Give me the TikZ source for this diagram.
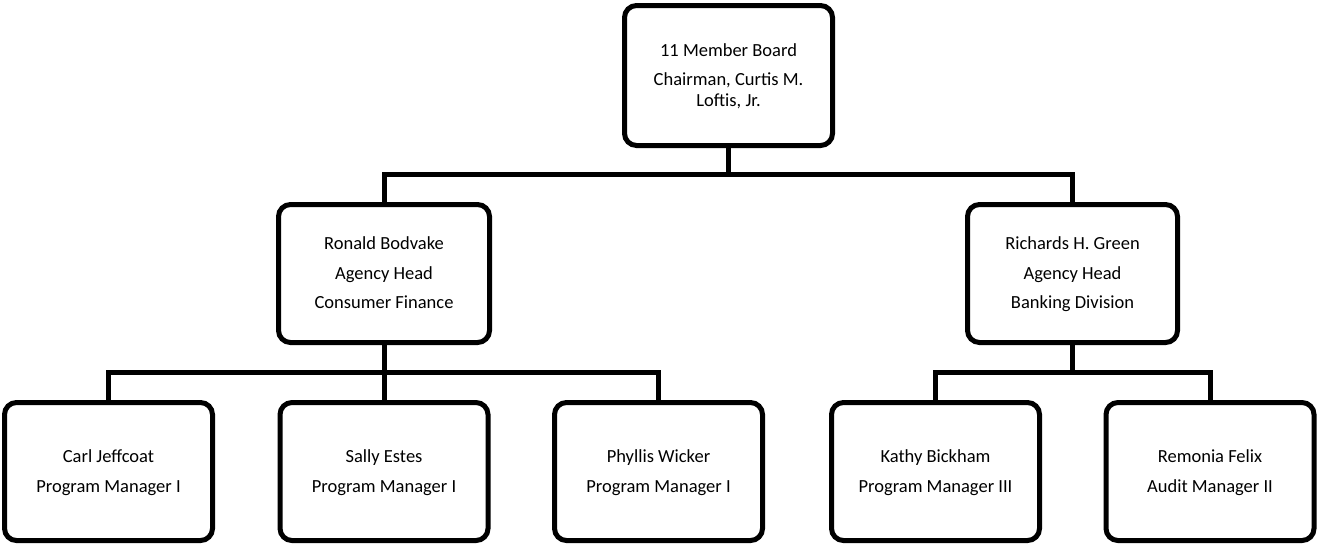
\documentclass[tikz,border=0pt]{standalone}
\usepackage{fontspec}
\setmainfont{Carlito}
\begin{document}
\begin{tikzpicture}[x=1pt,y=-1pt,
  box/.style={draw=black, line width=5pt, rounded corners=12pt, fill=white,
    minimum width=208pt, minimum height=138pt, inner sep=0pt, align=center,
    font=\fontsize{18.5}{29.5}\selectfont},
  conn/.style={draw=black, line width=5pt}]
\useasboundingbox (0,0) rectangle (1319,544);
% nodes
\node[box, minimum height=140pt] (top) at (728.5,75.5) {\strut 11 Member Board\\\strut Chairman, Curtis M.\\[-8.5pt]\strut Loftis, Jr.};
\node[box, minimum width=211pt] (midL) at (384,273.5) {\strut Ronald Bodvake\\\strut Agency Head\\\strut Consumer Finance};
\node[box, minimum width=210pt] (midR) at (1072.5,273.5) {\strut Richards H. Green\\\strut Agency Head\\\strut Banking Division};
\node[box] (carl) at (108.5,471.5) {\strut Carl Jeffcoat\\\strut Program Manager I};
\node[box] (sally) at (384,471.5) {\strut Sally Estes\\\strut Program Manager I};
\node[box] (phyllis) at (658.5,471.5) {\strut Phyllis Wicker\\\strut Program Manager I};
\node[box] (kathy) at (935.5,471.5) {\strut Kathy Bickham\\\strut Program Manager III};
\node[box] (remonia) at (1210,471.5) {\strut Remonia Felix\\\strut Audit Manager II};
% connectors
\draw[conn] (top.south) -- ++(0,26) -| (midL.north);
\draw[conn] (top.south) -- ++(0,26) -| (midR.north);
\draw[conn] (midL.south) -- ++(0,27) -| (carl.north);
\draw[conn] (midL.south) -- (sally.north);
\draw[conn] (midL.south) -- ++(0,27) -| (phyllis.north);
\draw[conn] (midR.south) -- ++(0,27) -| (kathy.north);
\draw[conn] (midR.south) -- ++(0,27) -| (remonia.north);
\end{tikzpicture}
\end{document}
